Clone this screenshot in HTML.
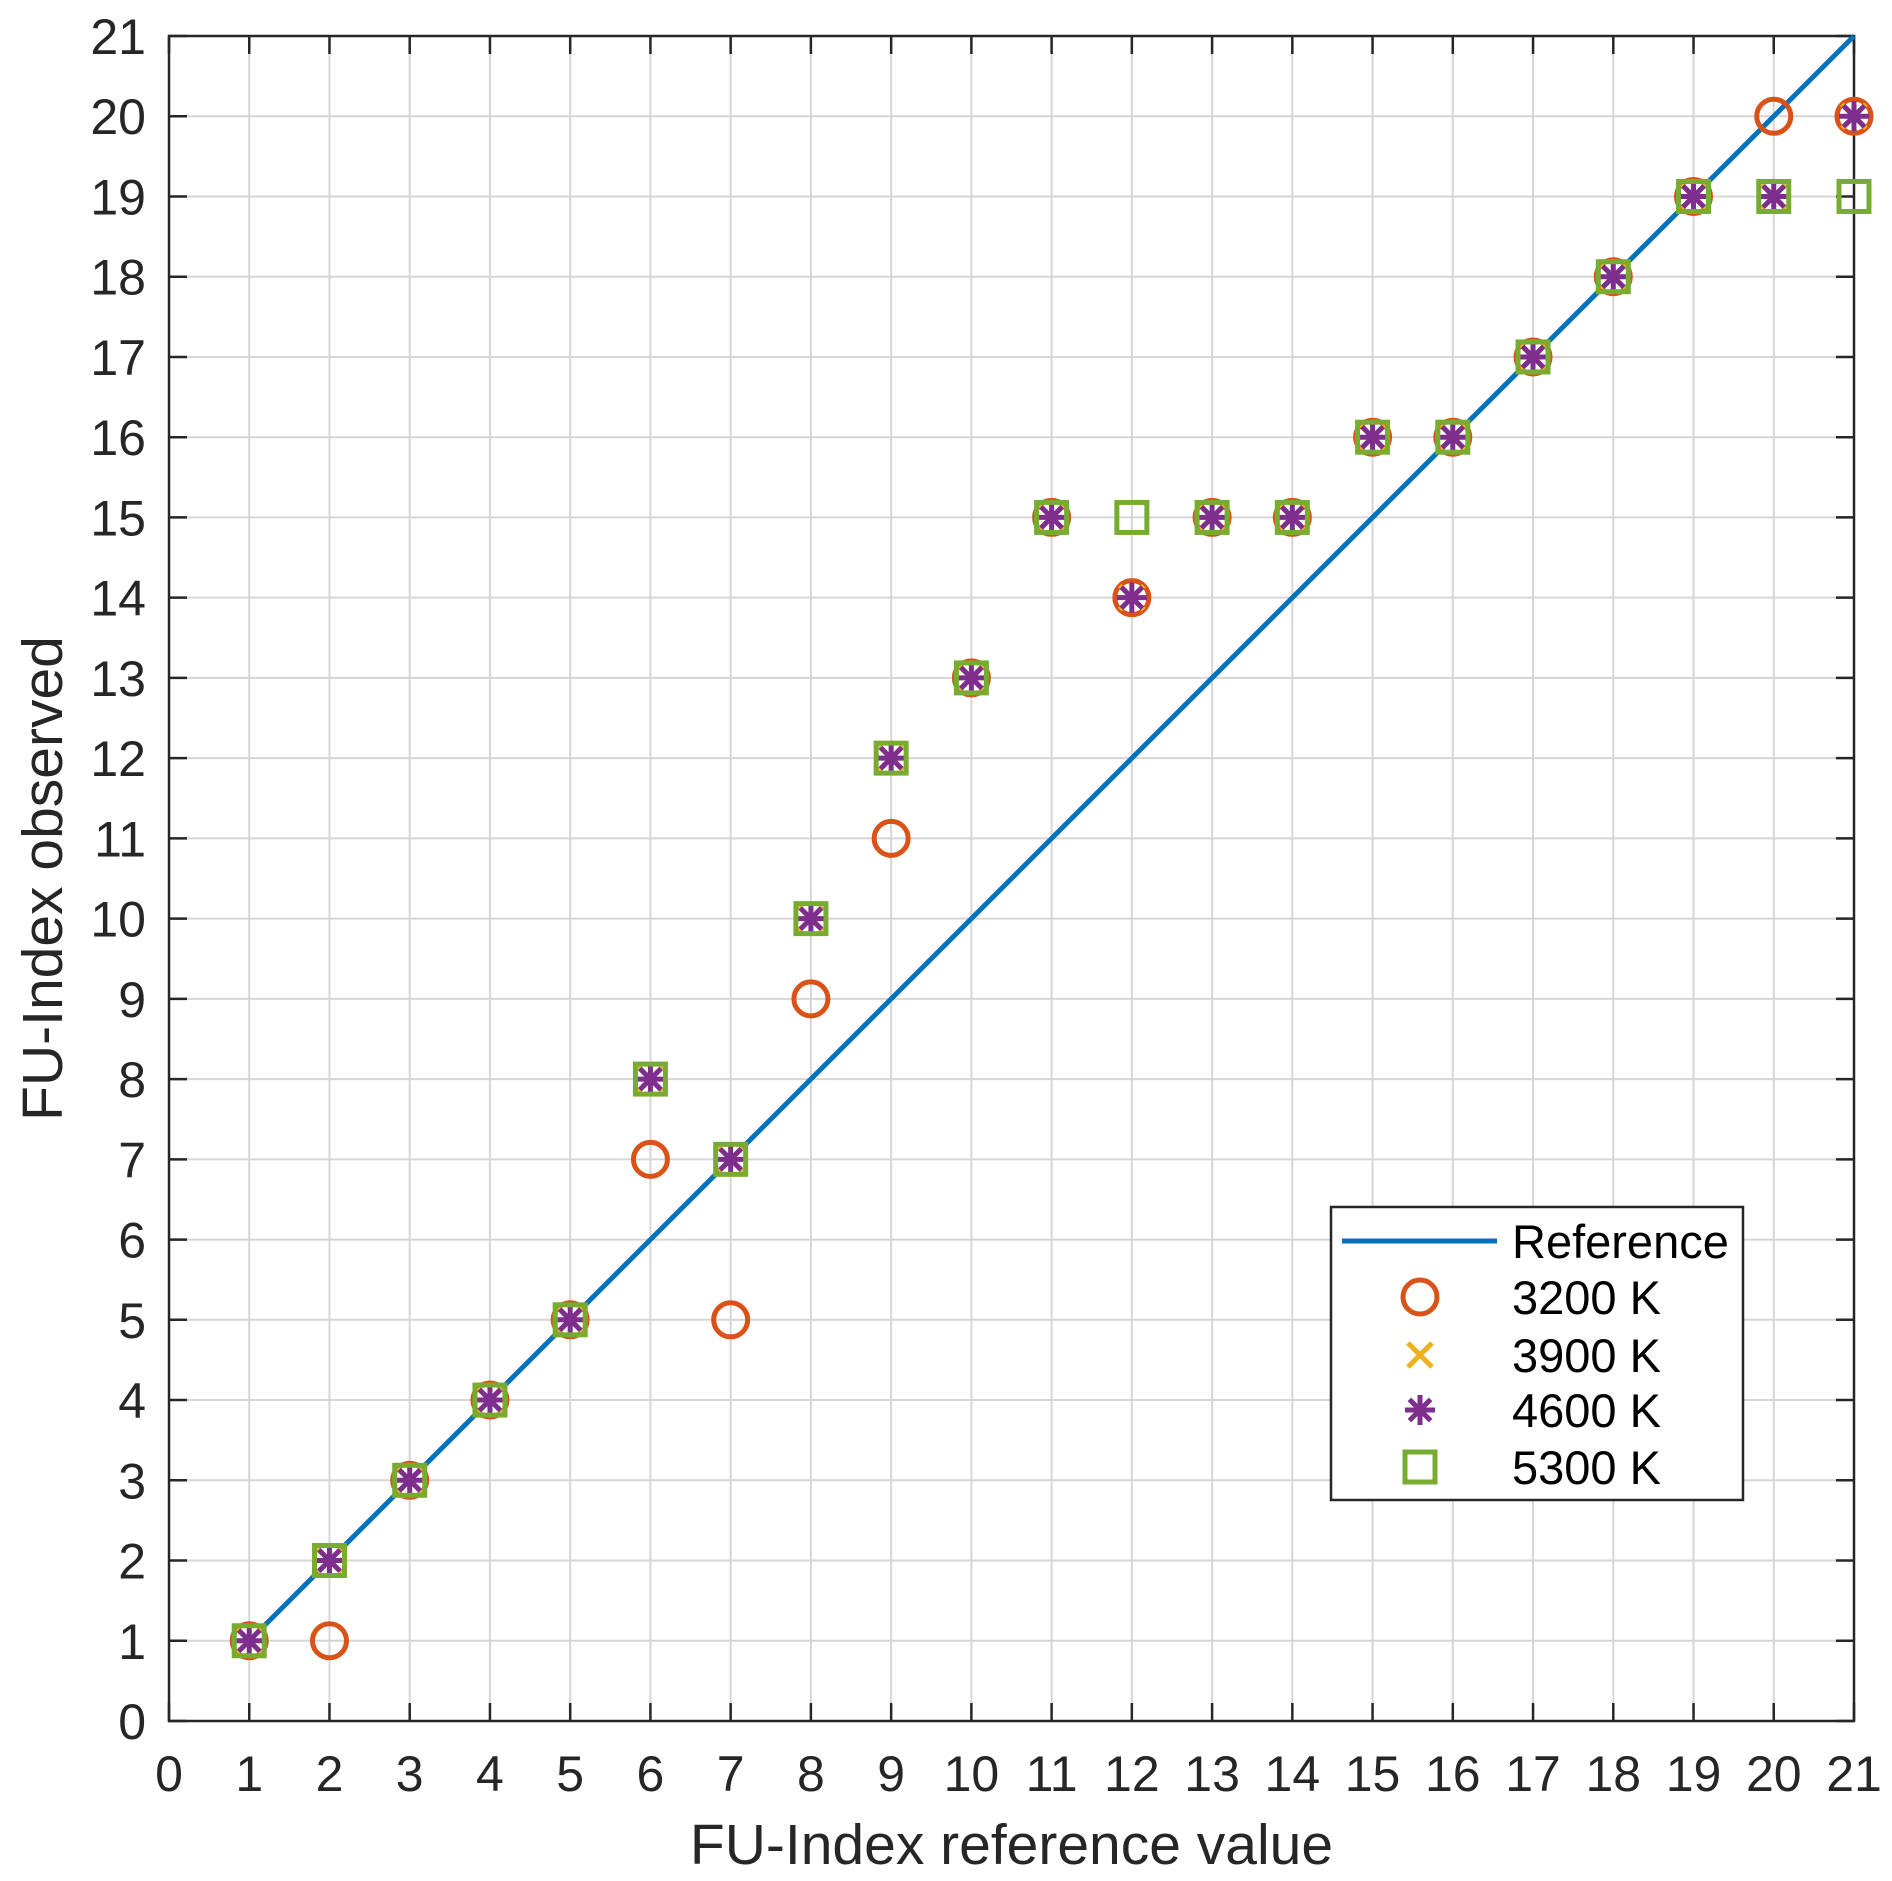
<!DOCTYPE html>
<html><head><meta charset="utf-8"><style>body{margin:0;background:#fff}svg{display:block}</style></head>
<body>
<svg id="s" width="1892" height="1881" xmlns="http://www.w3.org/2000/svg" font-family="Liberation Sans, sans-serif"></svg>
<script>
const s=document.getElementById('s');
const L=169,R=1854,T=36,B=1721,u=(R-L)/21;
const X=v=>L+v*u, Y=v=>B-v*u;
let h='<rect width="1892" height="1881" fill="#fff"/>';
for(let i=1;i<21;i++){h+=`<line x1="${X(i)}" y1="${T}" x2="${X(i)}" y2="${B}" stroke="#d6d6d6" stroke-width="2"/>`;
h+=`<line x1="${L}" y1="${Y(i)}" x2="${R}" y2="${Y(i)}" stroke="#d6d6d6" stroke-width="2"/>`;}
for(let i=0;i<=21;i++){
h+=`<line x1="${X(i)}" y1="${B}" x2="${X(i)}" y2="${B-18}" stroke="#262626" stroke-width="2.5"/>`;
h+=`<line x1="${X(i)}" y1="${T}" x2="${X(i)}" y2="${T+18}" stroke="#262626" stroke-width="2.5"/>`;
h+=`<line x1="${L}" y1="${Y(i)}" x2="${L+18}" y2="${Y(i)}" stroke="#262626" stroke-width="2.5"/>`;
h+=`<line x1="${R}" y1="${Y(i)}" x2="${R-18}" y2="${Y(i)}" stroke="#262626" stroke-width="2.5"/>`;
h+=`<text x="${X(i)}" y="${1791}" font-size="50" fill="#262626" text-anchor="middle">${i}</text>`;
h+=`<text x="${146}" y="${Y(i)+18}" font-size="50" fill="#262626" text-anchor="end">${i}</text>`;}
h+=`<rect x="${L}" y="${T}" width="${R-L}" height="${B-T}" fill="none" stroke="#262626" stroke-width="2.5"/>`;
h+=`<text x="${(L+R)/2}" y="1864" font-size="57" fill="#262626" text-anchor="middle">FU-Index reference value</text>`;
h+=`<text transform="translate(62,${(T+B)/2}) rotate(-90)" font-size="57" fill="#262626" text-anchor="middle">FU-Index observed</text>`;
h+=`<line x1="${X(1)}" y1="${Y(1)}" x2="${X(21)}" y2="${Y(21)}" stroke="#0072BD" stroke-width="5"/>`;
const c3=[1,1,3,4,5,7,5,9,11,13,15,14,15,15,16,16,17,18,19,20,20];
const c4=[1,2,3,4,5,8,7,10,12,13,15,14,15,15,16,16,17,18,19,19,20];
const c5=c4.slice();c5[11]=15;c5[20]=19;
const circ=(x,y)=>`<circle cx="${x}" cy="${y}" r="17" fill="none" stroke="#D95319" stroke-width="5"/>`;
const xm=(x,y)=>`<path d="M${x-12} ${y-12}L${x+12} ${y+12}M${x-12} ${y+12}L${x+12} ${y-12}" stroke="#EDB120" stroke-width="5"/>`;
const ast=(x,y)=>{let p='';for(let k=0;k<4;k++){const a=k*Math.PI/4,dx=15*Math.sin(a),dy=15*Math.cos(a);p+=`M${x-dx} ${y-dy}L${x+dx} ${y+dy}`;}return `<path d="${p}" stroke="#7E2F8E" stroke-width="5"/>`;};
const sq=(x,y)=>`<rect x="${x-15}" y="${y-15}" width="30" height="30" fill="none" stroke="#77AC30" stroke-width="5"/>`;
for(let i=0;i<21;i++)h+=circ(X(i+1),Y(c3[i]));
for(let i=0;i<21;i++)h+=xm(X(i+1),Y(c4[i]));
for(let i=0;i<21;i++)h+=ast(X(i+1),Y(c4[i]));
for(let i=0;i<21;i++)h+=sq(X(i+1),Y(c5[i]));
h+=`<rect x="1331" y="1207" width="412" height="293" fill="#fff" stroke="#262626" stroke-width="2.5"/>`;
h+=`<line x1="1342" y1="1241" x2="1497" y2="1241" stroke="#0072BD" stroke-width="5"/>`;
h+=circ(1420,1297)+xm(1420,1355)+ast(1420,1410)+sq(1420,1467);
const lab=['Reference','3200 K','3900 K','4600 K','5300 K'],ly=[1241,1297,1355,1410,1467];
lab.forEach((t,i)=>h+=`<text x="1512" y="${ly[i]+17}" font-size="47" fill="#000">${t}</text>`);
s.innerHTML=h;
</script>
</body></html>
